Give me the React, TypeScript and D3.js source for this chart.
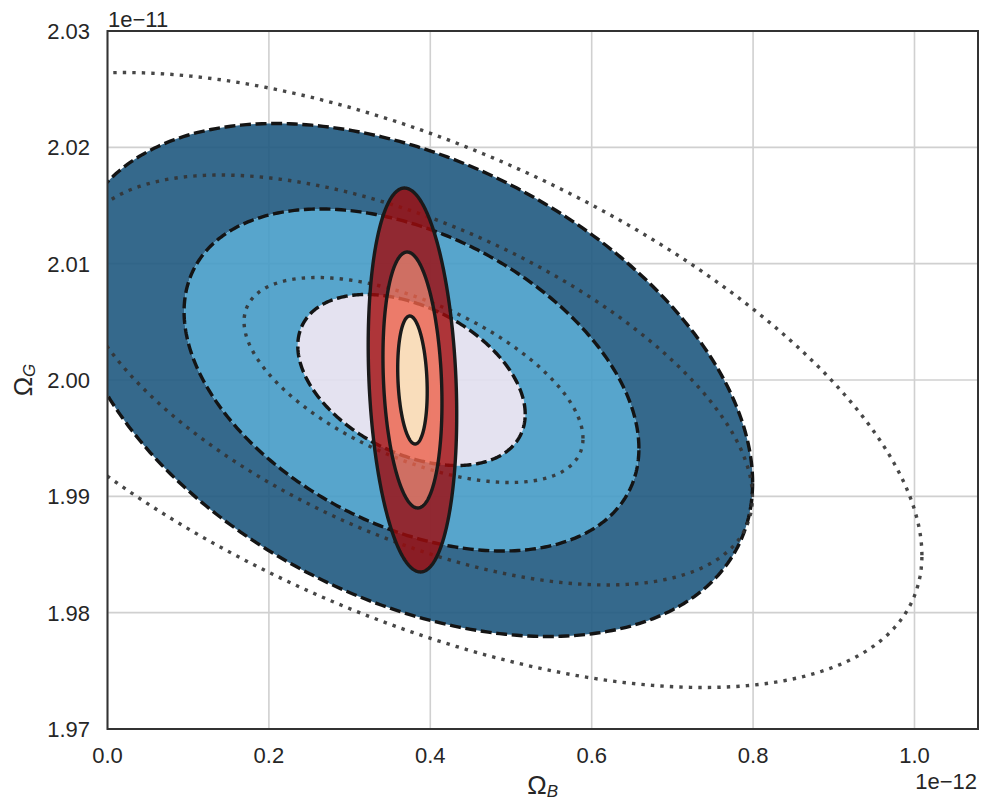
import React from 'react';
import * as d3 from 'd3';

const W = 981;
const H = 801;

// axes
const xDomain = [0, 1.0787e-12];
const yDomain = [1.97e-11, 2.03e-11];
const xTicks = [0, 0.2e-12, 0.4e-12, 0.6e-12, 0.8e-12, 1.0e-12];
const xTickLabels = ['0.0', '0.2', '0.4', '0.6', '0.8', '1.0'];
const yTicks = [1.97e-11, 1.98e-11, 1.99e-11, 2.0e-11, 2.01e-11, 2.02e-11, 2.03e-11];
const yTickLabels = ['1.97', '1.98', '1.99', '2.00', '2.01', '2.02', '2.03'];

// confidence levels (in sigma units), outermost first
const sigmaLevels = [3, 2, 1];

// blue (dashed) forecast
const blueCenter = [0.3767e-12, 2.0e-11];
const blueSigma = [0.1409e-12, 0.00735e-11];
const blueRho = -0.4;
const blueFills = ['#1f597f', '#459bc6', '#e1dfee'];

// dotted (unfilled) forecast
const dotCenter = [0.3792e-12, 2.0e-11];
const dotSigma = [0.21e-12, 0.00881e-11];
const dotRho = -0.57;

// red (solid) forecast
const redCenter = [0.3779e-12, 2.0e-11];
const redSigma = [0.01828e-12, 0.0055e-11];
const redRho = -0.18;
const redFills = ['#a00a0b', '#ee6248', '#fedcae'];

const M = { left: 107.5, right: 978, top: 31, bottom: 729 };
const FONT = "'Liberation Sans', Arial, sans-serif";

function ellipse(c: number[], s: number[], rho: number, k: number, n = 360): [number, number][] {
  const pts: [number, number][] = [];
  const r2 = Math.sqrt(1 - rho * rho);
  for (let i = 0; i < n; i++) {
    const t = (2 * Math.PI * i) / n;
    pts.push([c[0] + k * s[0] * Math.cos(t), c[1] + k * s[1] * (rho * Math.cos(t) + r2 * Math.sin(t))]);
  }
  return pts;
}

export default function App() {
  const x = d3.scaleLinear().domain(xDomain).range([M.left, M.right]);
  const y = d3.scaleLinear().domain(yDomain).range([M.bottom, M.top]);
  const line = d3
    .line<[number, number]>()
    .x((d) => x(d[0]))
    .y((d) => y(d[1]))
    .curve(d3.curveLinearClosed);

  const ring = (c: number[], s: number[], rho: number, i: number) => {
    const outer = line(ellipse(c, s, rho, sigmaLevels[i])) || '';
    const inner = i + 1 < sigmaLevels.length ? line(ellipse(c, s, rho, sigmaLevels[i + 1]).reverse()) || '' : '';
    return outer + inner;
  };

  return (
    <svg width={W} height={H} style={{ position: 'absolute', left: 0, top: 0, background: '#fff' }}>
      <defs>
        <clipPath id="plot">
          <rect x={M.left} y={M.top} width={M.right - M.left} height={M.bottom - M.top} />
        </clipPath>
      </defs>
      <rect x={0} y={0} width={W} height={H} fill="#fff" />
      {/* grid */}
      <g stroke="#d0d0d0" strokeWidth={1.6}>
        {xTicks.map((t, i) => (
          <line key={'gx' + i} x1={x(t)} x2={x(t)} y1={M.top} y2={M.bottom} />
        ))}
        {yTicks.map((t, i) => (
          <line key={'gy' + i} x1={M.left} x2={M.right} y1={y(t)} y2={y(t)} />
        ))}
      </g>
      <g clipPath="url(#plot)">
        {/* blue filled bands */}
        {sigmaLevels.map((k, i) => (
          <path key={'bf' + k} d={ring(blueCenter, blueSigma, blueRho, i)} fill={blueFills[i]} fillOpacity={0.9} fillRule="evenodd" />
        ))}
        {/* blue dashed contours */}
        {sigmaLevels.map((k) => (
          <path key={'bd' + k} d={line(ellipse(blueCenter, blueSigma, blueRho, k)) || ''} fill="none" stroke="#141414" strokeWidth={3.4} strokeDasharray="11,4.6" />
        ))}
        {/* dotted contours */}
        {sigmaLevels.map((k) => (
          <path key={'dd' + k} d={line(ellipse(dotCenter, dotSigma, dotRho, k)) || ''} fill="none" stroke="#333" strokeOpacity={0.9} strokeWidth={3.4} strokeDasharray="3.4,6.1" />
        ))}
        {/* red filled bands */}
        {sigmaLevels.map((k, i) => (
          <path key={'rf' + k} d={ring(redCenter, redSigma, redRho, i)} fill={redFills[i]} fillOpacity={0.8} fillRule="evenodd" />
        ))}
        {sigmaLevels.map((k) => (
          <path key={'rl' + k} d={line(ellipse(redCenter, redSigma, redRho, k)) || ''} fill="none" stroke="#1a1a1a" strokeWidth={3.4} />
        ))}
      </g>
      {/* spines */}
      <rect x={M.left} y={M.top} width={M.right - M.left} height={M.bottom - M.top} fill="none" stroke="#333" strokeWidth={2} />
      {/* tick labels */}
      <g fontFamily={FONT} fontSize={22} fill="#262626">
        {xTicks.map((t, i) => (
          <text key={'xl' + i} x={x(t)} y={763} textAnchor="middle">
            {xTickLabels[i]}
          </text>
        ))}
        {yTicks.map((t, i) => (
          <text key={'yl' + i} x={90} y={y(t)} dy="0.36em" textAnchor="end">
            {yTickLabels[i]}
          </text>
        ))}
        <text x={108} y={27}>1e−11</text>
        <text x={977} y={789} textAnchor="end">1e−12</text>
      </g>
      {/* axis labels */}
      <g fontFamily={FONT} fill="#262626">
        <text x={(M.left + M.right) / 2} y={794} textAnchor="middle" fontSize={26}>
          Ω<tspan fontSize={17} fontStyle="italic" dy={3}>B</tspan>
        </text>
        <text transform={`translate(32,${(M.top + M.bottom) / 2}) rotate(-90)`} textAnchor="middle" fontSize={26}>
          Ω<tspan fontSize={17} fontStyle="italic" dy={3}>G</tspan>
        </text>
      </g>
    </svg>
  );
}
